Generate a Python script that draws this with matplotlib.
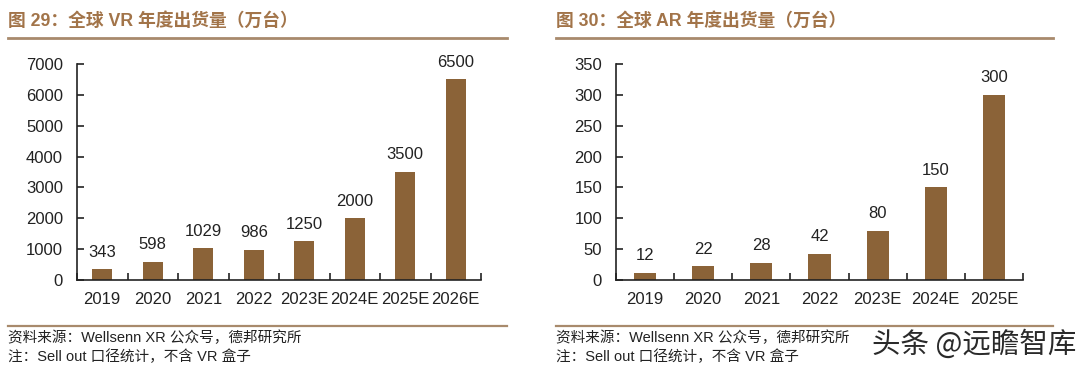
import matplotlib.pyplot as plt
from matplotlib.lines import Line2D

plt.rcParams['font.family'] = ['Liberation Sans', 'Noto Sans CJK SC', 'DejaVu Sans']

vr_years = ["2019", "2020", "2021", "2022", "2023E", "2024E", "2025E", "2026E"]
vr_values = [343, 598, 1029, 986, 1250, 2000, 3500, 6500]
vr_ticks = [0, 1000, 2000, 3000, 4000, 5000, 6000, 7000]

ar_years = ["2019", "2020", "2021", "2022", "2023E", "2024E", "2025E"]
ar_values = [12, 22, 28, 42, 80, 150, 300]
ar_ticks = [0, 50, 100, 150, 200, 250, 300, 350]

BAR = "#8b6338"
TITLE = "#a27449"
RULE = "#a88a6c"
TXT = "#222222"

W, H = 1080, 370
fig = plt.figure(figsize=(W / 100, H / 100), dpi=100)


def px(x, y):
    return x / W, 1 - y / H


def draw_bars(rect, years, values, ticks, width):
    ax = fig.add_axes(rect)
    x = range(len(years))
    ax.bar(x, values, width=width, color=BAR, zorder=2)
    ax.set_xlim(-0.5, len(years) - 0.5)
    ax.set_ylim(ticks[0], ticks[-1])
    ax.set_yticks(ticks)
    ax.set_xticks(list(x))
    ax.set_xticklabels(years)
    ax.set_xticks([i - 0.5 for i in range(len(years) + 1)], minor=True)
    ax.tick_params(axis='x', which='major', length=0, pad=9, labelsize=12, colors=TXT)
    ax.tick_params(axis='x', which='minor', direction='in', length=5, width=1.2, color='#222')
    ax.tick_params(axis='y', direction='in', length=5, width=1.2, pad=10, labelsize=12, colors=TXT)
    for s in ['top', 'right']:
        ax.spines[s].set_visible(False)
    for s in ['left', 'bottom']:
        ax.spines[s].set_linewidth(1.2)
        ax.spines[s].set_color('#222')
    for i, v in enumerate(values):
        ax.annotate(str(v), (i, v), xytext=(0, 7), textcoords='offset points',
                    ha='center', va='bottom', fontsize=12, color=TXT)
    return ax


draw_bars([77 / W, 1 - 280 / H, 404 / W, 216 / H], vr_years, vr_values, vr_ticks, 0.4)
draw_bars([616 / W, 1 - 280 / H, 407 / W, 216 / H], ar_years, ar_values, ar_ticks, 0.38)

mixed = ['Liberation Sans', 'Noto Sans CJK SC', 'DejaVu Sans']
cjk = ['Noto Sans CJK SC', 'DejaVu Sans']

# titles and rules
fig.text(*px(8, 21), "图 29：全球 VR 年度出货量（万台）", fontsize=12.8, fontweight='bold',
         color=TITLE, va='center', family=mixed)
fig.text(*px(556, 21), "图 30：全球 AR 年度出货量（万台）", fontsize=12.8, fontweight='bold',
         color=TITLE, va='center', family=mixed)

for x0, x1 in [(8, 507), (556, 1053)]:
    for y, lw in [(38, 2.0), (326, 1.6)]:
        fig.add_artist(Line2D([x0 / W, x1 / W], [1 - y / H, 1 - y / H], color=RULE, lw=lw))

for x0 in [8, 556]:
    fig.text(*px(x0, 338), "资料来源：Wellsenn XR 公众号，德邦研究所", fontsize=10.5,
             color=TXT, va='center', family=mixed)
    fig.text(*px(x0, 357), "注：Sell out 口径统计，不含 VR 盒子", fontsize=10.5,
             color=TXT, va='center', family=mixed)

fig.text(*px(1076, 345), "头条 @远瞻智库", fontsize=20.5, color='#2a2a2a',
         ha='right', va='center', family=cjk)

fig.savefig("out.png", dpi=100)
